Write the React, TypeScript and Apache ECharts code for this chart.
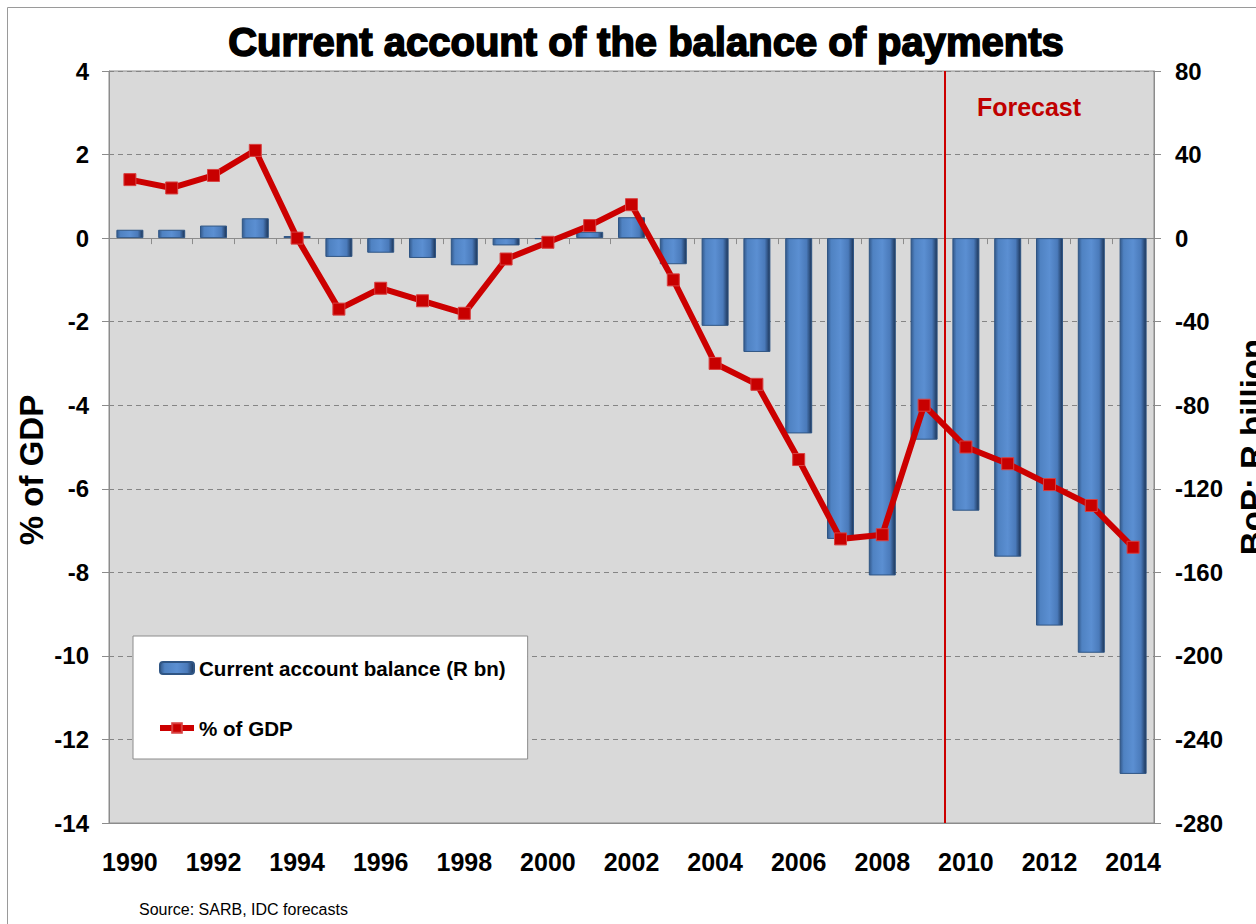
import React, { useEffect, useRef } from "react";
import * as echarts from "echarts";

const years = [
  "1990", "1991", "1992", "1993", "1994", "1995", "1996", "1997", "1998", "1999",
  "2000", "2001", "2002", "2003", "2004", "2005", "2006", "2007", "2008", "2009",
  "2010", "2011", "2012", "2013", "2014",
];
const balanceRbn = [
  4, 4, 6, 9.5, 1, -9, -7, -9.5, -13, -3.5,
  -0.5, 3, 10, -12.5, -42, -54.5, -93.5, -144, -161.5, -96.5,
  -130.5, -152.5, -185.5, -198.5, -256.5,
];
const pctOfGdp = [
  1.4, 1.2, 1.5, 2.1, 0.0, -1.7, -1.2, -1.5, -1.8, -0.5,
  -0.1, 0.3, 0.8, -1.0, -3.0, -3.5, -5.3, -7.2, -7.1, -4.0,
  -5.0, -5.4, -5.9, -6.4, -7.4,
];
const leftAxisTicks = { min: -14, max: 4, interval: 2 };
const rightAxisTicks = { min: -280, max: 80, interval: 40 };
const forecastFrom = "2010";

const barName = "Current account balance (R bn)";
const lineName = "% of GDP";
const FONT = '"Liberation Sans", Arial, sans-serif';

export default function App() {
  const ref = useRef<HTMLDivElement>(null);
  useEffect(() => {
    document.body.style.margin = "0";
    const chart = echarts.init(ref.current!, null, { renderer: "svg" });
    const fIdx = years.indexOf(forecastFrom) - 0.5;
    const gray = "#8c8c8c";
    chart.setOption({
      animation: false,
      backgroundColor: "#ffffff",
      textStyle: { fontFamily: FONT },
      grid: {
        left: 109,
        right: 102,
        top: 71,
        bottom: 101,
        show: true,
        backgroundColor: "#D9D9D9",
        borderColor: gray,
        borderWidth: 1,
      },
      legend: {
        orient: "vertical",
        left: 133,
        top: 636,
        padding: [20, 22, 19, 24],
        itemGap: 36,
        itemWidth: 34,
        itemHeight: 12,
        backgroundColor: "#ffffff",
        borderColor: gray,
        borderWidth: 1,
        borderRadius: 0,
        textStyle: {
          fontFamily: FONT,
          fontSize: 20.6,
          fontWeight: "bold",
          color: "#000",
          lineHeight: 24,
        },
        data: [
          { name: barName },
          { name: lineName, lineStyle: { width: 6 } },
        ],
      },
      xAxis: [
        {
          type: "category",
          data: years,
          position: "bottom",
          axisLine: { onZero: false, lineStyle: { color: gray, width: 1 } },
          axisTick: { show: false },
          axisLabel: {
            interval: 1,
            fontSize: 25,
            fontWeight: "bold",
            color: "#000",
            fontFamily: FONT,
            margin: 26,
          },
          splitLine: { show: false },
        },
        {
          type: "category",
          data: years,
          position: "top",
          axisLine: {
            onZero: true,
            onZeroAxisIndex: 0,
            lineStyle: { color: gray, width: 1 },
          },
          axisTick: {
            show: true,
            inside: true,
            length: 6,
            interval: 0,
            lineStyle: { color: gray, width: 1 },
          },
          axisLabel: { show: false },
          splitLine: { show: false },
        },
        {
          type: "value",
          min: -0.5,
          max: years.length - 0.5,
          show: false,
          axisLine: { onZero: false },
          splitLine: { show: false },
        },
      ],
      yAxis: [
        {
          type: "value",
          position: "left",
          min: leftAxisTicks.min,
          max: leftAxisTicks.max,
          interval: leftAxisTicks.interval,
          axisLine: { show: true, onZero: false, lineStyle: { color: gray, width: 1 } },
          axisTick: { show: true, length: 7, lineStyle: { color: gray, width: 1 } },
          axisLabel: {
            fontSize: 24,
            fontWeight: "bold",
            color: "#000",
            fontFamily: FONT,
            margin: 20,
          },
          splitLine: {
            show: true,
            lineStyle: { color: "#858585", width: 1, type: [5, 4] },
          },
        },
        {
          type: "value",
          position: "right",
          min: rightAxisTicks.min,
          max: rightAxisTicks.max,
          interval: rightAxisTicks.interval,
          axisLine: { show: true, onZero: false, lineStyle: { color: gray, width: 1 } },
          axisTick: { show: true, length: 7, lineStyle: { color: gray, width: 1 } },
          axisLabel: {
            fontSize: 24,
            fontWeight: "bold",
            color: "#000",
            fontFamily: FONT,
            margin: 21,
          },
          splitLine: { show: false },
        },
      ],
      series: [
        {
          name: barName,
          type: "bar",
          xAxisIndex: 0,
          yAxisIndex: 1,
          barWidth: 27,
          data: balanceRbn,
          itemStyle: {
            borderColor: "#2f5584",
            borderWidth: 1,
            color: {
              type: "linear",
              x: 0,
              y: 0,
              x2: 1,
              y2: 0,
              colorStops: [
                { offset: 0, color: "#345a8c" },
                { offset: 0.14, color: "#4f82c2" },
                { offset: 0.5, color: "#5b8fd2" },
                { offset: 0.8, color: "#4a7aba" },
                { offset: 1, color: "#1c3558" },
              ],
            },
          },
        },
        {
          name: "forecast",
          type: "line",
          xAxisIndex: 2,
          yAxisIndex: 0,
          symbol: "none",
          silent: true,
          data: [
            [fIdx, leftAxisTicks.max],
            [fIdx, leftAxisTicks.min],
          ],
          lineStyle: { color: "#CC0000", width: 2 },
        },
        {
          name: lineName,
          type: "line",
          xAxisIndex: 0,
          yAxisIndex: 0,
          data: pctOfGdp,
          symbol: "rect",
          symbolSize: 12,
          lineStyle: { color: "#CC0000", width: 6 },
          itemStyle: { color: "#C80000", borderColor: "#d84040", borderWidth: 1 },
        },
      ],
      graphic: [
        {
          type: "rect",
          silent: true,
          shape: { x: 7.5, y: 7.5, width: 1400, height: 1100 },
          style: { fill: "none", stroke: "#9a9a9a", lineWidth: 1 },
          z: -10,
        },
        {
          type: "text",
          x: 646,
          y: 42,
          style: {
            text: "Current account of the balance of payments",
            fontFamily: FONT,
            fontSize: 40,
            fontWeight: "bold",
            fill: "#000",
            stroke: "#000",
            lineWidth: 1.6,
            textAlign: "center",
            textVerticalAlign: "middle",
          },
        },
        {
          type: "text",
          x: 1029,
          y: 107,
          z: 100,
          style: {
            text: "Forecast",
            fontFamily: FONT,
            fontSize: 25,
            fontWeight: "bold",
            fill: "#C00000",
            textAlign: "center",
            textVerticalAlign: "middle",
          },
        },
        {
          type: "text",
          x: 31,
          y: 470,
          rotation: Math.PI / 2,
          style: {
            text: "% of GDP",
            fontFamily: FONT,
            fontSize: 33,
            fontWeight: "bold",
            fill: "#000",
            textAlign: "center",
            textVerticalAlign: "middle",
          },
        },
        {
          type: "text",
          x: 1252,
          y: 447,
          rotation: Math.PI / 2,
          style: {
            text: "BoP: R billion",
            fontFamily: FONT,
            fontSize: 33,
            fontWeight: "bold",
            fill: "#000",
            textAlign: "center",
            textVerticalAlign: "middle",
          },
        },
        {
          type: "text",
          x: 139,
          y: 909,
          style: {
            text: "Source: SARB, IDC forecasts",
            fontFamily: FONT,
            fontSize: 16,
            fontWeight: "normal",
            fill: "#000",
            textAlign: "left",
            textVerticalAlign: "middle",
          },
        },
      ],
    });
    return () => chart.dispose();
  }, []);
  return <div ref={ref} style={{ width: 1256, height: 924 }} />;
}
